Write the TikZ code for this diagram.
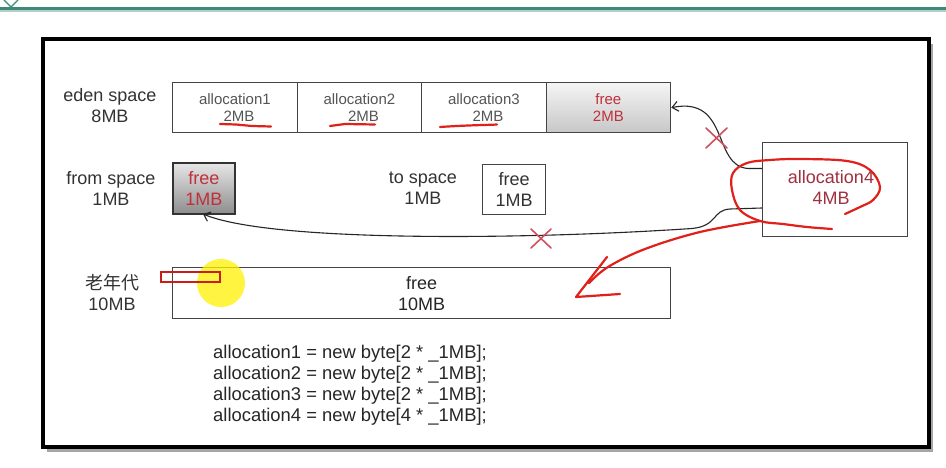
\documentclass[tikz,border=0pt]{standalone}
\usepackage{fontspec}
\setmainfont{Liberation Sans}
\newfontfamily\cjkfont{Noto Sans CJK SC}
\usetikzlibrary{arrows.meta,shadings}
\definecolor{teal1}{HTML}{3F8A77}
\definecolor{labgray}{HTML}{333333}
\definecolor{cellgray}{HTML}{555555}
\definecolor{bordergray}{HTML}{444444}
\definecolor{redtext}{HTML}{C0303A}
\definecolor{darkred}{HTML}{A0303F}
\definecolor{penred}{HTML}{E0201A}
\definecolor{xred}{HTML}{D05060}
\tikzset{
  lab/.style={align=center,text=labgray,font=\fontsize{18}{21}\selectfont,inner sep=0pt},
  celltxt/.style={align=center,text=cellgray,font=\fontsize{15}{17}\selectfont},
  cell/.style={draw=bordergray,line width=1.3pt,fill=white,minimum height=50pt,inner sep=0pt,anchor=north west},
  freecell/.style={cell,top color=white!96!black,bottom color=black!22},
  fromcell/.style={cell,draw=black!80,line width=1.8pt,top color=black!10,bottom color=black!45},
  codetxt/.style={anchor=base west,text=black!85,font=\fontsize{18.4}{21}\selectfont,inner sep=0pt},
  conn/.style={black!85,line width=1.1pt,-{Straight Barb[length=6pt,width=10pt]}},
  pen/.style={penred,line width=2.2pt,line cap=round,line join=round},
  xmark/.style={xred,line width=1.6pt,line cap=round}
}
\begin{document}
\begin{tikzpicture}[x=1pt,y=-1pt]
\useasboundingbox (0,0) rectangle (946,468);
\fill[white!98!green!60!white] (0,0) rectangle (946,468);
\fill[white] (0,12) rectangle (946,468);
% top bar
\draw[teal1,line width=3pt] (0,8.5) -- (946,8.5);
\draw[teal1!40,line width=1.5pt] (0,11) -- (946,11);
\draw[teal1,line width=1.2pt] (4,0) -- (11,7) -- (18,0);
% frame with shadow
\fill[black!35] (47,44) rectangle (933,452);
\fill[white] (43,39) rectangle (929,447);
\draw[black,line width=4pt] (43,39) rectangle (929,447);

% eden space
\node[lab] (edenlab) at (110,106) {eden space\\8MB};
\node[cell,minimum width=124.5pt] (e1) at (172,82) {};
\node[cell,minimum width=124.5pt] (e2) at (296.5,82) {};
\node[cell,minimum width=124.5pt] (e3) at (421,82) {};
\node[freecell,minimum width=124.5pt] (e4) at (545.5,82) {};
\node[celltxt] (e1t) at (e1.center) {allocation1\\\ \ 2MB};
\node[celltxt] (e2t) at (e2.center) {allocation2\\\ \ 2MB};
\node[celltxt] (e3t) at (e3.center) {allocation3\\\ \ 2MB};
\node[celltxt,text=redtext] (e4t) at (e4.center) {free\\2MB};

% from / to
\node[lab] (fromlab) at (111,188) {from space\\1MB};
\node[fromcell,minimum width=62pt,minimum height=51pt] (from) at (172,162.5) {};
\node[lab,text=redtext] (fromt) at (from.center) {free\\1MB};
\node[lab] (tolab) at (423,188) {to space\\1MB};
\node[cell,minimum width=63pt,minimum height=50pt] (to) at (482,164) {};
\node[lab,text=labgray] (tot) at (to.center) {free\\1MB};

% allocation4
\node[cell,minimum width=145pt,minimum height=94pt] (a4) at (762,142) {};
\node[lab,text=darkred] (a4t) at (831,187) {allocation4\\4MB};

% old generation
\node[lab] (oldlab) at (112,292) {{\cjkfont 老年代}\\10MB};
\node[cell,minimum width=498pt,minimum height=51pt] (old) at (172,267) {};
\node[lab,text=black!85] (oldt) at (old.center) {free\\10MB};

% yellow highlight and red marker
\fill[yellow,opacity=0.75] (221,283) circle (24pt);
\draw[penred!90!black,line width=2pt] (161,272) rectangle (220,282);

% connectors
\coordinate (a4up) at (762,168.5);
\coordinate (a4dn) at (762,208);
\draw[conn] (a4up) -- (748,168.5) .. controls (712,166) and (730,96) .. (e4.east);
\draw[conn] (a4dn) -- (730,209) .. controls (712,210) and (718,226) .. (692,228.5)
   .. controls (520,240) and (270,242) .. (203,214);

% red crosses
\draw[xmark] (706,128) -- (727,148) (706,148) -- (727,128);
\draw[xmark] (531,229) -- (551,248) (531,248) -- (551,229);

% red underlines
\draw[pen] (220,124) -- (236,124.5) -- (252,126) -- (271,126.5);
\draw[pen] (330,126) -- (345,124) -- (375,124.5);
\draw[pen] (440,127) .. controls (470,125) and (490,125) .. (497,124.5);

% red loop and arrow
\draw[pen] plot[smooth,tension=0.6] coordinates {(845,214) (860,207) (873,200) (880,187) (870,170) (847,161) (800,159) (770,160) (747,163) (733,173) (732,190) (740,210) (760,221) (783,224) (807,227) (832,229)};
\draw[pen] plot[smooth,tension=0.6] coordinates {(760,221) (700,232) (645,249) (608,267) (589,283)};
\draw[pen] (607,257) -- (576,297) -- (620,294);

% code
\node[codetxt] (c1) at (213,358) {allocation1 = new byte[2 * \_1MB];};
\node[codetxt] (c2) at (213,379) {allocation2 = new byte[2 * \_1MB];};
\node[codetxt] (c3) at (213,400) {allocation3 = new byte[2 * \_1MB];};
\node[codetxt] (c4) at (213,421) {allocation4 = new byte[4 * \_1MB];};
\end{tikzpicture}
\end{document}
